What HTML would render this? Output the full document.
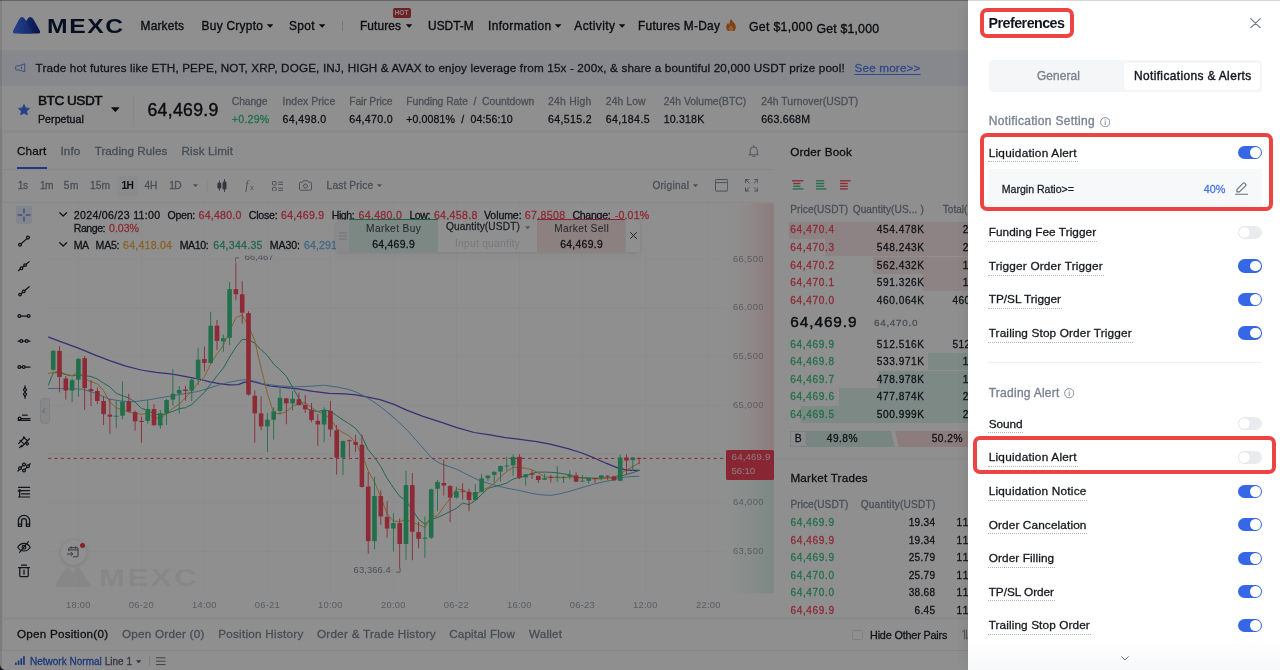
<!DOCTYPE html><html lang="en"><head><meta charset="utf-8"><title>MEXC Futures - Preferences</title><style>

*{margin:0;padding:0}
html,body{width:1280px;height:670px;overflow:hidden;background:#f5f6f7}
body{font-family:"Liberation Sans",sans-serif;-webkit-font-smoothing:antialiased}
#page{position:relative;width:1280px;height:670px;overflow:hidden;background:#f5f6f7}
#page span,#page div,#page svg{position:absolute;white-space:pre;display:block}
#trade,#drawer{will-change:transform}
#mask{left:0;top:0;width:1280px;height:670px;background:rgba(0,0,0,.44)}

</style></head><body><div id="page">
<div id="trade" style="left:0;top:0;width:1280px;height:670px">
<div style="left:777.00px;top:133.00px;width:503.00px;height:483.50px;background:#ffffff;"></div>
<div style="left:0.00px;top:0.00px;width:1280.00px;height:50.00px;background:#ffffff;"></div>
<svg style="left:13.4px;top:17px" width="27" height="16.6" viewBox="0 0 27 16.6">
<defs><linearGradient id="lg1" x1="0" y1="0" x2="1" y2="0"><stop offset="0" stop-color="#4078f4"/><stop offset="1" stop-color="#2247c0"/></linearGradient>
<linearGradient id="lg2" x1="0" y1="0" x2="1" y2="0"><stop offset="0" stop-color="#2a55d8"/><stop offset="1" stop-color="#10257f"/></linearGradient></defs>
<path d="M6.50 16.50Q6.40 16.50 6.45 16.41L13.67 3.36Q17.30 -3.20 20.98 3.33L26.83 13.71Q28.40 16.50 25.20 16.50Z" fill="url(#lg2)"/><path d="M1.80 16.50Q-1.40 16.50 0.08 13.66L5.42 3.45Q8.90 -3.20 12.68 3.28L18.79 13.74Q20.40 16.50 17.20 16.50Z" fill="url(#lg1)"/>
</svg>
<span style="left:46.6px;top:13px;font-size:20.6px;line-height:26px;font-weight:700;color:#0c1a3a;letter-spacing:1.3px;transform:scaleX(1.2);transform-origin:0 0;">MEXC</span>
<span style="left:140.60px;top:18px;font-size:11.9px;line-height:16px;color:#15181e;letter-spacing:0.181px;-webkit-text-stroke:0.36px #15181e;">Markets</span>
<span style="left:201.50px;top:18px;font-size:11.9px;line-height:16px;color:#15181e;letter-spacing:0.293px;-webkit-text-stroke:0.36px #15181e;">Buy Crypto</span>
<svg style="left:267.00px;top:24.10px" width="6.3" height="3.8" viewBox="0 0 10 6"><path d="M0.5 0.3h9a.4.4 0 0 1 .3.7L5.4 5.7a.55.55 0 0 1-.8 0L.2 1A.4.4 0 0 1 .5.3z" fill="#15181e"/></svg>
<span style="left:289.00px;top:18px;font-size:11.9px;line-height:16px;color:#15181e;letter-spacing:0.340px;-webkit-text-stroke:0.36px #15181e;">Spot</span>
<svg style="left:318.70px;top:24.10px" width="6.3" height="3.8" viewBox="0 0 10 6"><path d="M0.5 0.3h9a.4.4 0 0 1 .3.7L5.4 5.7a.55.55 0 0 1-.8 0L.2 1A.4.4 0 0 1 .5.3z" fill="#15181e"/></svg>
<div style="left:341.60px;top:20.50px;width:1.00px;height:10.00px;background:#d5d8dd;"></div>
<span style="left:360.00px;top:18px;font-size:11.9px;line-height:16px;color:#15181e;letter-spacing:0.110px;-webkit-text-stroke:0.36px #15181e;">Futures</span>
<svg style="left:405.50px;top:24.10px" width="6.3" height="3.8" viewBox="0 0 10 6"><path d="M0.5 0.3h9a.4.4 0 0 1 .3.7L5.4 5.7a.55.55 0 0 1-.8 0L.2 1A.4.4 0 0 1 .5.3z" fill="#15181e"/></svg>
<div style="left:392.50px;top:8.20px;width:18.00px;height:9.80px;background:#c23c40;border-radius:2px;"></div>
<span style="left:392.5px;width:18px;text-align:center;top:8.2px;font-size:6.6px;line-height:9.8px;font-weight:700;color:#ffecec;letter-spacing:0.1px">HOT</span>
<span style="left:428.00px;top:18px;font-size:11.9px;line-height:16px;color:#15181e;letter-spacing:0.038px;-webkit-text-stroke:0.36px #15181e;">USDT-M</span>
<span style="left:488.00px;top:18px;font-size:11.9px;line-height:16px;color:#15181e;letter-spacing:0.368px;-webkit-text-stroke:0.36px #15181e;">Information</span>
<svg style="left:555.40px;top:24.10px" width="6.3" height="3.8" viewBox="0 0 10 6"><path d="M0.5 0.3h9a.4.4 0 0 1 .3.7L5.4 5.7a.55.55 0 0 1-.8 0L.2 1A.4.4 0 0 1 .5.3z" fill="#15181e"/></svg>
<span style="left:574.30px;top:18px;font-size:11.9px;line-height:16px;color:#15181e;letter-spacing:0.430px;-webkit-text-stroke:0.36px #15181e;">Activity</span>
<svg style="left:619.00px;top:24.10px" width="6.3" height="3.8" viewBox="0 0 10 6"><path d="M0.5 0.3h9a.4.4 0 0 1 .3.7L5.4 5.7a.55.55 0 0 1-.8 0L.2 1A.4.4 0 0 1 .5.3z" fill="#15181e"/></svg>
<span style="left:638.00px;top:18px;font-size:11.9px;line-height:16px;color:#15181e;letter-spacing:0.277px;-webkit-text-stroke:0.36px #15181e;">Futures M-Day</span>
<svg style="left:726px;top:18.5px" width="10" height="12.8" viewBox="0 0 10 12.8">
<path d="M5.2 0c.6 2 2.300 3 3.500 4.800C9.600 6.200 10 7.400 9.800 8.700 9.500 11.100 7.500 12.800 5 12.800S.5 11.100.2 8.700C0 6.700 1 5.200 2.200 3.800c.2 1 .6 1.600 1.300 2C3.300 3.700 3.900 1.600 5.200 0z" fill="#e8702a"/>
<path d="M5 6.200c.9 1.100 2.200 2 2.200 3.700 0 1.400-1 2.500-2.200 2.500s-2.200-1.100-2.200-2.500c0-1.700 1.300-2.600 2.200-3.700z" fill="#f7b64a"/></svg>
<span style="left:749.00px;top:19px;font-size:12.3px;line-height:16px;color:#15181e;letter-spacing:0.294px;-webkit-text-stroke:0.36px #15181e;">Get $1,000</span>
<span style="left:816.50px;top:21px;font-size:12.3px;line-height:16px;color:#15181e;letter-spacing:0.182px;-webkit-text-stroke:0.36px #15181e;">Get $1,000</span>
<div style="left:0.00px;top:52.50px;width:1280.00px;height:33.00px;background:#f0f3fc;"></div>
<svg style="left:14.5px;top:63.3px" width="11" height="10" viewBox="0 0 11 10" fill="none" stroke="#5f7fd6" stroke-width="0.9" stroke-linejoin="round">
<path d="M9.800.8v8L4 7H1.600C1.100 7 .7 6.600.7 6.100V3.700c0-.5.4-.9.900-.9H4L9.800.8z"/><path d="M6.500 3.500v2.600"/></svg>
<span style="left:35.60px;top:60px;font-size:11.7px;line-height:15px;color:#22262e;letter-spacing:0.147px;-webkit-text-stroke:0.28px #22262e;">Trade hot futures like ETH, PEPE, NOT, XRP, DOGE, INJ, HIGH &amp; AVAX to enjoy leverage from 15x - 200x, &amp; share a bountiful 20,000 USDT prize pool!</span>
<span style="left:854.50px;top:60px;font-size:11.7px;line-height:15px;color:#5580f0;letter-spacing:0.179px;-webkit-text-stroke:0.28px #5580f0;text-decoration:underline;text-underline-offset:2px;">See more&gt;&gt;</span>
<div style="left:0.00px;top:85.50px;width:1280.00px;height:44.20px;background:#ffffff;"></div>
<svg style="left:18px;top:103.6px" width="12" height="11.600" viewBox="0 0 24 23"><path d="M12 .8l3.300 7 7.600 1-5.600 5.300 1.400 7.600L12 18l-6.700 3.700 1.400-7.600L1.100 8.800l7.600-1z" fill="#4576f2" stroke="#4576f2" stroke-width="1.600" stroke-linejoin="round"/></svg>
<span style="left:38.00px;top:92px;font-size:13.6px;line-height:17px;color:#14171c;letter-spacing:-0.486px;-webkit-text-stroke:0.55px #14171c;">BTC USDT</span>
<span style="left:38.00px;top:112px;font-size:10.6px;line-height:14px;color:#1b1f27;letter-spacing:0.053px;-webkit-text-stroke:0.35px #1b1f27;">Perpetual</span>
<svg style="left:111.00px;top:106.80px" width="8.6" height="5" viewBox="0 0 10 6"><path d="M0.5 0.3h9a.4.4 0 0 1 .3.7L5.4 5.7a.55.55 0 0 1-.8 0L.2 1A.4.4 0 0 1 .5.3z" fill="#14171c"/></svg>
<div style="left:133.00px;top:95.00px;width:1.00px;height:32.00px;background:#f1f2f4;"></div>
<span style="left:147.40px;top:99px;font-size:17.6px;line-height:22px;color:#14171c;letter-spacing:0.357px;-webkit-text-stroke:0.45px #14171c;">64,469.9</span>
<span style="left:231.80px;top:95px;font-size:10.4px;line-height:13px;color:#858c99;letter-spacing:-0.146px;-webkit-text-stroke:0.28px #858c99;">Change</span>
<span style="left:231.80px;top:112px;font-size:10.6px;line-height:14px;color:#3dc688;letter-spacing:0.251px;-webkit-text-stroke:0.28px #3dc688;">+0.29%</span>
<span style="left:282.50px;top:95px;font-size:10.4px;line-height:13px;color:#858c99;letter-spacing:0.068px;-webkit-text-stroke:0.28px #858c99;">Index Price</span>
<span style="left:282.50px;top:112px;font-size:10.6px;line-height:14px;color:#1b1f27;letter-spacing:0.349px;-webkit-text-stroke:0.28px #1b1f27;">64,498.0</span>
<span style="left:349.20px;top:95px;font-size:10.4px;line-height:13px;color:#858c99;letter-spacing:-0.121px;-webkit-text-stroke:0.28px #858c99;">Fair Price</span>
<span style="left:349.20px;top:112px;font-size:10.6px;line-height:14px;color:#1b1f27;letter-spacing:0.306px;-webkit-text-stroke:0.28px #1b1f27;">64,470.0</span>
<span style="left:406.20px;top:95px;font-size:10.4px;line-height:13px;color:#858c99;letter-spacing:-0.056px;-webkit-text-stroke:0.28px #858c99;">Funding Rate  /  Countdown</span>
<span style="left:406.20px;top:112px;font-size:10.6px;line-height:14px;color:#1b1f27;letter-spacing:0.119px;-webkit-text-stroke:0.28px #1b1f27;">+0.0081%  /  04:56:10</span>
<span style="left:548.00px;top:95px;font-size:10.4px;line-height:13px;color:#858c99;letter-spacing:0.239px;-webkit-text-stroke:0.28px #858c99;">24h High</span>
<span style="left:548.00px;top:112px;font-size:10.6px;line-height:14px;color:#1b1f27;letter-spacing:0.335px;-webkit-text-stroke:0.28px #1b1f27;">64,515.2</span>
<span style="left:605.80px;top:95px;font-size:10.4px;line-height:13px;color:#858c99;letter-spacing:0.081px;-webkit-text-stroke:0.28px #858c99;">24h Low</span>
<span style="left:605.80px;top:112px;font-size:10.6px;line-height:14px;color:#1b1f27;letter-spacing:0.363px;-webkit-text-stroke:0.28px #1b1f27;">64,184.5</span>
<span style="left:663.70px;top:95px;font-size:10.4px;line-height:13px;color:#858c99;-webkit-text-stroke:0.28px #858c99;">24h Volume(BTC)</span>
<span style="left:663.70px;top:112px;font-size:10.6px;line-height:14px;color:#1b1f27;letter-spacing:0.185px;-webkit-text-stroke:0.28px #1b1f27;">10.318K</span>
<span style="left:761.20px;top:95px;font-size:10.4px;line-height:13px;color:#858c99;letter-spacing:0.029px;-webkit-text-stroke:0.28px #858c99;">24h Turnover(USDT)</span>
<span style="left:761.20px;top:112px;font-size:10.6px;line-height:14px;color:#1b1f27;letter-spacing:0.237px;-webkit-text-stroke:0.28px #1b1f27;">663.668M</span>
<div style="left:3.00px;top:133.00px;width:774.50px;height:483.50px;background:#ffffff;"></div>
<span style="left:16.90px;top:143px;font-size:11.7px;line-height:15px;color:#14171c;letter-spacing:0.223px;-webkit-text-stroke:0.28px #14171c;">Chart</span>
<span style="left:60.40px;top:143px;font-size:11.7px;line-height:15px;color:#7f8794;letter-spacing:0.129px;-webkit-text-stroke:0.28px #7f8794;">Info</span>
<span style="left:94.70px;top:143px;font-size:11.7px;line-height:15px;color:#7f8794;letter-spacing:0.025px;-webkit-text-stroke:0.28px #7f8794;">Trading Rules</span>
<span style="left:181.50px;top:143px;font-size:11.7px;line-height:15px;color:#7f8794;letter-spacing:0.089px;-webkit-text-stroke:0.28px #7f8794;">Risk Limit</span>
<div style="left:16.90px;top:166.60px;width:30.00px;height:2.10px;background:#3f66e0;"></div>
<div style="left:3.00px;top:168.60px;width:771.00px;height:1.00px;background:#f1f2f4;"></div>
<svg style="left:747.5px;top:145.4px" width="11.6" height="12.4" viewBox="0 0 12 13" fill="none" stroke="#8a919c" stroke-width="1" stroke-linecap="round" stroke-linejoin="round"><path d="M2.300 9.300V5.600a3.700 3.700 0 0 1 7.400 0v3.700l1 1H1.300z"/><path d="M4.800 11.900h2.400M6 1.900V.8"/></svg>
<div style="left:117.20px;top:176.30px;width:20.60px;height:19.60px;background:#f7f8f9;border-radius:2px;"></div>
<span style="left:17.80px;top:179px;font-size:10.2px;line-height:13px;color:#868d99;letter-spacing:-0.472px;-webkit-text-stroke:0.28px #868d99;">1s</span>
<span style="left:40.00px;top:179px;font-size:10.2px;line-height:13px;color:#868d99;letter-spacing:-0.600px;-webkit-text-stroke:0.28px #868d99;">1m</span>
<span style="left:63.80px;top:179px;font-size:10.2px;line-height:13px;color:#868d99;letter-spacing:0.432px;-webkit-text-stroke:0.28px #868d99;">5m</span>
<span style="left:90.00px;top:179px;font-size:10.2px;line-height:13px;color:#868d99;letter-spacing:0.080px;-webkit-text-stroke:0.28px #868d99;">15m</span>
<span style="left:121.50px;top:179px;font-size:10.2px;line-height:13px;color:#14171c;letter-spacing:-0.600px;font-weight:700;">1H</span>
<span style="left:144.40px;top:179px;font-size:10.2px;line-height:13px;color:#868d99;letter-spacing:0.062px;-webkit-text-stroke:0.28px #868d99;">4H</span>
<span style="left:169.30px;top:179px;font-size:10.2px;line-height:13px;color:#868d99;letter-spacing:-0.600px;-webkit-text-stroke:0.28px #868d99;">1D</span>
<svg style="left:193.00px;top:184.30px" width="5" height="3.2" viewBox="0 0 10 6"><path d="M0.5 0.3h9a.4.4 0 0 1 .3.7L5.4 5.7a.55.55 0 0 1-.8 0L.2 1A.4.4 0 0 1 .5.3z" fill="#8a919c"/></svg>
<div style="left:207.00px;top:180.00px;width:1.00px;height:12.00px;background:#f5f6f7;"></div>
<svg style="left:217.4px;top:179px" width="10" height="13.4" viewBox="0 0 10 13.400" fill="#5b626e"><rect x="1.900" y="1.600" width="0.9" height="10"/><rect x="0.4" y="3.800" width="3.900" height="5.600" rx="1.200"/><rect x="7.100" y="0" width="0.9" height="13.400"/><rect x="5.600" y="2.600" width="3.900" height="7.800" rx="1.200"/></svg>
<span style="left:245.3px;top:177.6px;font-size:11.5px;line-height:15px;font-style:italic;color:#8a919c;font-family:'Liberation Serif',serif;">f</span><span style="left:250px;top:182.6px;font-size:7.5px;line-height:10px;color:#8a919c;">x</span>
<svg style="left:271.8px;top:180.5px" width="11.2" height="10.6" viewBox="0 0 11.200 10.600" fill="none" stroke="#8a919c" stroke-width="1"><rect x=".5" y=".5" width="3.600" height="3.600" rx=".6"/><rect x=".5" y="6.500" width="3.600" height="3.600" rx=".6"/><path d="M6.300 1.200h4.900M6.300 3.400h4.900M6.300 7.200h4.900M6.300 9.400h4.900"/></svg>
<svg style="left:299px;top:180.3px" width="13" height="10.8" viewBox="0 0 13 10.800" fill="none" stroke="#8a919c" stroke-width="1" stroke-linejoin="round"><path d="M1.500 2.200h2l.9-1.500h4.200l.9 1.500h2c.6 0 1 .4 1 1v6c0 .6-.4 1-1 1h-10c-.6 0-1-.4-1-1v-6c0-.6.4-1 1-1z"/><circle cx="6.500" cy="6" r="2"/></svg>
<span style="left:326.60px;top:179px;font-size:10.2px;line-height:13px;color:#868d99;letter-spacing:0.128px;-webkit-text-stroke:0.28px #868d99;">Last Price</span>
<svg style="left:377.40px;top:184.30px" width="5" height="3.2" viewBox="0 0 10 6"><path d="M0.5 0.3h9a.4.4 0 0 1 .3.7L5.4 5.7a.55.55 0 0 1-.8 0L.2 1A.4.4 0 0 1 .5.3z" fill="#8a919c"/></svg>
<span style="left:652.40px;top:179px;font-size:10.2px;line-height:13px;color:#868d99;letter-spacing:0.208px;-webkit-text-stroke:0.28px #868d99;">Original</span>
<svg style="left:693.20px;top:184.30px" width="5" height="3.2" viewBox="0 0 10 6"><path d="M0.5 0.3h9a.4.4 0 0 1 .3.7L5.4 5.7a.55.55 0 0 1-.8 0L.2 1A.4.4 0 0 1 .5.3z" fill="#8a919c"/></svg>
<svg style="left:715px;top:179.2px" width="13.2" height="12.6" viewBox="0 0 13.200 12.600" fill="none" stroke="#8a919c" stroke-width="1"><rect x=".5" y=".5" width="12.200" height="11.600" rx=".8"/><path d="M.5 3.600h12.200"/></svg>
<svg style="left:744.8px;top:179.2px" width="13.400" height="12.600" viewBox="0 0 13.400 12.600" fill="none" stroke="#8a919c" stroke-width="1" stroke-linecap="round" stroke-linejoin="round"><path d="M.6 3.800V.6h3.200M.6.600l3.600 3.400M12.800 3.800V.6H9.600M12.800.6L9.200 4M.6 8.800V12h3.200M.6 12l3.600-3.400M12.800 8.800V12H9.600M12.800 12L9.200 8.600"/></svg>
<div style="left:3.00px;top:202.40px;width:771.00px;height:1.00px;background:#f1f2f4;"></div>
<svg style="left:0;top:0" width="1280" height="670" viewBox="0 0 1280 670"><defs><linearGradient id="pg" x1="0" y1="0" x2="1" y2="0"><stop offset="0" stop-color="#f0455b" stop-opacity="0"/><stop offset="0.45" stop-color="#f0455b" stop-opacity="0.05"/><stop offset="1" stop-color="#f0455b" stop-opacity="0.19"/></linearGradient><linearGradient id="gg" x1="0" y1="0" x2="1" y2="0"><stop offset="0" stop-color="#1fae7c" stop-opacity="0"/><stop offset="0.45" stop-color="#1fae7c" stop-opacity="0.05"/><stop offset="1" stop-color="#1fae7c" stop-opacity="0.15"/></linearGradient></defs><rect x="727" y="203.4" width="46.800" height="255" fill="url(#pg)"/><rect x="727" y="458.4" width="46.800" height="134.800" fill="url(#gg)"/><path d="M78.4 203.500V593" stroke="#f8f9fa" stroke-width="1"/><path d="M141.4 203.500V593" stroke="#f8f9fa" stroke-width="1"/><path d="M204.4 203.500V593" stroke="#f8f9fa" stroke-width="1"/><path d="M267.4 203.500V593" stroke="#f8f9fa" stroke-width="1"/><path d="M330.4 203.500V593" stroke="#f8f9fa" stroke-width="1"/><path d="M393.4 203.500V593" stroke="#f8f9fa" stroke-width="1"/><path d="M456.4 203.500V593" stroke="#f8f9fa" stroke-width="1"/><path d="M519.4 203.500V593" stroke="#f8f9fa" stroke-width="1"/><path d="M582.4 203.500V593" stroke="#f8f9fa" stroke-width="1"/><path d="M645.4 203.500V593" stroke="#f8f9fa" stroke-width="1"/><path d="M708.4 203.500V593" stroke="#f8f9fa" stroke-width="1"/><path d="M48 259.2H726" stroke="#f8f9fa" stroke-width="1"/><path d="M48 308.0H726" stroke="#f8f9fa" stroke-width="1"/><path d="M48 356.6H726" stroke="#f8f9fa" stroke-width="1"/><path d="M48 405.3H726" stroke="#f8f9fa" stroke-width="1"/><path d="M48 454.0H726" stroke="#f8f9fa" stroke-width="1"/><path d="M48 502.7H726" stroke="#f8f9fa" stroke-width="1"/><path d="M48 551.4H726" stroke="#f8f9fa" stroke-width="1"/><path d="M48.6 337.2 L62.0 342.2 L78.4 348.2 L94.0 354.6 L109.7 360.7 L125.0 365.8 L141.0 370.0 L156.0 372.4 L172.4 374.2 L186.0 376.6 L200.6 379.5 L210.0 381.8 L219.4 383.6 L229.0 384.8 L238.2 384.6 L244.0 382.4 L250.8 381.2 L258.0 382.8 L269.6 385.8 L283.0 387.4 L297.8 388.9 L313.0 391.4 L329.2 393.4 L345.0 393.8 L356.0 394.8 L365.4 396.7 L380.0 399.6 L394.0 404.4 L407.2 410.4 L423.0 416.4 L440.0 421.8 L457.0 427.6 L474.0 432.5 L490.0 434.8 L505.4 437.6 L520.0 439.4 L536.7 441.6 L550.0 444.2 L568.0 448.6 L582.0 453.0 L594.7 458.2 L606.0 463.2 L617.6 467.8 L624.0 469.4 L631.0 470.3 L639.0 470.3" fill="none" stroke="#6a4fd0" stroke-width="1.25" stroke-linejoin="round" stroke-linecap="round" opacity="1"/><path d="M48.4 388.5 L65.0 388.6 L81.8 389.1 L95.0 393.0 L109.0 399.0 L122.0 401.2 L134.0 401.7 L150.0 399.6 L165.4 396.9 L181.0 394.3 L196.7 391.7 L207.0 388.8 L217.6 385.4 L229.0 382.2 L240.0 380.2 L248.0 379.7 L256.0 381.5 L263.0 383.8 L278.0 385.8 L294.5 386.9 L310.0 386.3 L323.6 385.2 L336.3 386.9 L348.7 389.4 L357.0 392.4 L365.4 396.7 L376.0 403.4 L386.3 411.3 L397.0 420.5 L407.2 430.2 L415.5 439.6 L423.9 449.0 L432.0 458.4 L440.0 463.4 L448.0 466.2 L457.0 469.4 L467.0 474.5 L478.0 479.9 L488.0 483.2 L498.8 486.3 L509.0 488.6 L519.7 490.6 L530.0 493.0 L540.0 494.7 L550.4 495.4 L560.0 493.8 L570.6 491.1 L580.0 488.2 L590.7 485.1 L600.0 482.6 L610.9 480.4 L618.0 478.6 L624.3 477.2 L632.0 476.5 L639.0 476.3" fill="none" stroke="#74b9e6" stroke-width="1" stroke-linejoin="round" stroke-linecap="round" opacity="1"/><path d="M48.4 385.0 L53.2 372.9 L59.5 372.6 L65.8 374.6 L72.1 376.0 L78.4 374.6 L84.7 375.7 L91.0 376.5 L97.3 379.0 L103.6 383.2 L109.9 386.9 L116.2 393.3 L122.5 395.8 L128.8 397.9 L135.1 402.0 L141.4 408.3 L147.7 410.4 L154.0 413.8 L160.3 415.0 L166.6 413.6 L172.9 411.3 L179.2 408.7 L185.5 407.7 L191.8 404.5 L198.1 398.3 L204.4 392.4 L210.7 384.1 L217.0 375.7 L223.3 368.2 L229.6 357.1 L235.9 347.1 L242.2 339.4 L248.5 339.8 L254.8 343.1 L261.1 349.8 L267.4 355.5 L273.7 364.1 L280.0 369.8 L286.3 376.3 L292.6 387.2 L298.9 398.3 L305.2 408.0 L311.5 410.5 L317.8 411.6 L324.1 410.0 L330.4 411.0 L336.7 415.6 L343.0 420.0 L349.3 423.8 L355.6 428.4 L361.9 436.5 L368.2 449.7 L374.5 457.3 L380.8 466.5 L387.1 478.3 L393.4 487.7 L399.7 496.3 L406.0 500.7 L412.3 509.8 L418.6 519.2 L424.9 524.2 L431.2 519.1 L437.5 517.6 L443.8 514.6 L450.1 511.5 L456.4 508.3 L462.7 503.1 L469.0 504.6 L475.3 500.6 L481.6 494.6 L487.9 488.4 L494.2 486.6 L500.5 485.0 L506.8 483.0 L513.1 479.0 L519.4 477.6 L525.7 475.9 L532.0 473.3 L538.3 472.1 L544.6 472.1 L550.9 472.3 L557.2 472.8 L563.5 473.9 L569.8 474.8 L576.1 477.3 L582.4 477.6 L588.7 477.9 L595.0 478.4 L601.3 477.9 L607.6 477.7 L613.9 478.0 L620.2 476.1 L626.5 474.5 L632.8 472.7 L639.1 470.4" fill="none" stroke="#3fb890" stroke-width="1" stroke-linejoin="round" stroke-linecap="round" opacity="1"/><path d="M48.4 373.5 L53.2 372.4 L59.5 371.2 L65.8 374.1 L72.1 375.7 L78.4 371.5 L84.7 378.9 L91.0 381.7 L97.3 383.8 L103.6 390.6 L109.9 402.2 L116.2 407.7 L122.5 409.8 L128.8 411.9 L135.1 413.3 L141.4 414.4 L147.7 413.1 L154.0 417.8 L160.3 418.1 L166.6 413.9 L172.9 408.2 L179.2 404.4 L185.5 397.6 L191.8 390.9 L198.1 382.8 L204.4 376.7 L210.7 363.8 L217.0 353.8 L223.3 345.5 L229.6 331.4 L235.9 317.6 L242.2 315.0 L248.5 325.8 L254.8 340.8 L261.1 368.3 L267.4 393.4 L273.7 413.1 L280.0 413.7 L286.3 411.7 L292.6 406.2 L298.9 403.3 L305.2 402.9 L311.5 407.3 L317.8 411.6 L324.1 413.9 L330.4 418.7 L336.7 428.4 L343.0 432.6 L349.3 435.9 L355.6 442.8 L361.9 454.3 L368.2 471.0 L374.5 482.0 L380.8 497.1 L387.1 513.8 L393.4 521.0 L399.7 521.6 L406.0 519.4 L412.3 522.5 L418.6 524.5 L424.9 527.5 L431.2 516.5 L437.5 515.9 L443.8 506.6 L450.1 498.4 L456.4 489.1 L462.7 489.6 L469.0 493.3 L475.3 494.6 L481.6 490.7 L487.9 487.6 L494.2 483.6 L500.5 476.8 L506.8 471.5 L513.1 467.2 L519.4 467.6 L525.7 468.1 L532.0 469.8 L538.3 472.7 L544.6 477.0 L550.9 477.0 L557.2 477.5 L563.5 477.9 L569.8 476.9 L576.1 477.6 L582.4 478.2 L588.7 478.4 L595.0 478.9 L601.3 478.9 L607.6 477.9 L613.9 477.8 L620.2 473.7 L626.5 470.1 L632.8 466.5 L639.1 462.9" fill="none" stroke="#f0b04a" stroke-width="1" stroke-linejoin="round" stroke-linecap="round" opacity="1"/><path d="M48 458.400H726.400" stroke="#ee4a5d" stroke-width="1" stroke-dasharray="3.200 3.200"/><rect x="52.75" y="349.9" width="0.9" height="20.9" fill="#3dc688"/><rect x="50.90" y="350.9" width="4.600" height="18.8" fill="#3dc688"/><rect x="59.05" y="346.3" width="0.9" height="46.0" fill="#fb4b5f"/><rect x="57.20" y="350.9" width="4.600" height="26.1" fill="#fb4b5f"/><rect x="65.35" y="376.0" width="0.9" height="23.6" fill="#fb4b5f"/><rect x="63.50" y="378.5" width="4.600" height="12.1" fill="#fb4b5f"/><rect x="71.65" y="378.5" width="0.9" height="23.5" fill="#3dc688"/><rect x="69.80" y="380.2" width="4.600" height="10.4" fill="#3dc688"/><rect x="77.95" y="358.2" width="0.9" height="38.7" fill="#3dc688"/><rect x="76.10" y="358.8" width="4.600" height="20.9" fill="#3dc688"/><rect x="84.25" y="356.0" width="0.9" height="53.8" fill="#fb4b5f"/><rect x="82.40" y="358.2" width="4.600" height="29.9" fill="#fb4b5f"/><rect x="90.55" y="380.2" width="0.9" height="26.1" fill="#fb4b5f"/><rect x="88.70" y="389.1" width="4.600" height="1.9" fill="#fb4b5f"/><rect x="96.85" y="387.5" width="0.9" height="16.7" fill="#fb4b5f"/><rect x="95.00" y="391.0" width="4.600" height="10.0" fill="#fb4b5f"/><rect x="103.15" y="396.5" width="0.9" height="28.5" fill="#fb4b5f"/><rect x="101.30" y="401.0" width="4.600" height="13.2" fill="#fb4b5f"/><rect x="109.45" y="399.0" width="0.9" height="34.9" fill="#fb4b5f"/><rect x="107.60" y="414.6" width="4.600" height="2.1" fill="#fb4b5f"/><rect x="115.75" y="400.6" width="0.9" height="27.6" fill="#3dc688"/><rect x="113.90" y="415.7" width="4.600" height="1.0" fill="#3dc688"/><rect x="122.05" y="381.2" width="0.9" height="38.2" fill="#3dc688"/><rect x="120.20" y="401.5" width="4.600" height="14.2" fill="#3dc688"/><rect x="128.35" y="393.7" width="0.9" height="18.8" fill="#fb4b5f"/><rect x="126.50" y="401.5" width="4.600" height="10.0" fill="#fb4b5f"/><rect x="134.65" y="410.5" width="0.9" height="20.2" fill="#fb4b5f"/><rect x="132.80" y="412.1" width="4.600" height="9.2" fill="#fb4b5f"/><rect x="140.95" y="416.7" width="0.9" height="26.2" fill="#fb4b5f"/><rect x="139.10" y="420.9" width="4.600" height="1.1" fill="#fb4b5f"/><rect x="147.25" y="400.0" width="0.9" height="23.6" fill="#3dc688"/><rect x="145.40" y="409.0" width="4.600" height="11.9" fill="#3dc688"/><rect x="153.55" y="404.2" width="0.9" height="21.9" fill="#fb4b5f"/><rect x="151.70" y="409.0" width="4.600" height="16.1" fill="#fb4b5f"/><rect x="159.85" y="410.0" width="0.9" height="18.8" fill="#3dc688"/><rect x="158.00" y="413.2" width="4.600" height="12.3" fill="#3dc688"/><rect x="166.15" y="399.0" width="0.9" height="26.0" fill="#3dc688"/><rect x="164.30" y="400.0" width="4.600" height="13.2" fill="#3dc688"/><rect x="172.45" y="369.0" width="0.9" height="36.7" fill="#3dc688"/><rect x="170.60" y="393.7" width="4.600" height="5.9" fill="#3dc688"/><rect x="178.75" y="386.0" width="0.9" height="27.6" fill="#3dc688"/><rect x="176.90" y="390.0" width="4.600" height="3.7" fill="#3dc688"/><rect x="185.05" y="386.0" width="0.9" height="14.6" fill="#fb4b5f"/><rect x="183.20" y="389.6" width="4.600" height="1.4" fill="#fb4b5f"/><rect x="191.35" y="377.6" width="0.9" height="23.4" fill="#3dc688"/><rect x="189.50" y="379.7" width="4.600" height="10.9" fill="#3dc688"/><rect x="197.65" y="347.8" width="0.9" height="37.0" fill="#3dc688"/><rect x="195.80" y="359.7" width="4.600" height="19.4" fill="#3dc688"/><rect x="203.95" y="346.6" width="0.9" height="24.6" fill="#fb4b5f"/><rect x="202.10" y="359.0" width="4.600" height="3.9" fill="#fb4b5f"/><rect x="210.25" y="311.7" width="0.9" height="52.3" fill="#3dc688"/><rect x="208.40" y="325.7" width="4.600" height="37.2" fill="#3dc688"/><rect x="216.55" y="320.0" width="0.9" height="29.9" fill="#fb4b5f"/><rect x="214.70" y="325.7" width="4.600" height="15.2" fill="#fb4b5f"/><rect x="222.85" y="334.6" width="0.9" height="17.2" fill="#3dc688"/><rect x="221.00" y="338.2" width="4.600" height="3.1" fill="#3dc688"/><rect x="229.15" y="281.8" width="0.9" height="63.3" fill="#3dc688"/><rect x="227.30" y="289.1" width="4.600" height="48.7" fill="#3dc688"/><rect x="235.45" y="262.6" width="0.9" height="37.6" fill="#fb4b5f"/><rect x="233.60" y="289.1" width="4.600" height="5.2" fill="#fb4b5f"/><rect x="241.75" y="281.3" width="0.9" height="42.3" fill="#fb4b5f"/><rect x="239.90" y="294.3" width="4.600" height="18.4" fill="#fb4b5f"/><rect x="248.05" y="311.2" width="0.9" height="84.5" fill="#fb4b5f"/><rect x="246.20" y="313.1" width="4.600" height="81.5" fill="#fb4b5f"/><rect x="254.35" y="390.4" width="0.9" height="52.3" fill="#fb4b5f"/><rect x="252.50" y="395.7" width="4.600" height="17.7" fill="#fb4b5f"/><rect x="260.65" y="396.3" width="0.9" height="33.9" fill="#fb4b5f"/><rect x="258.80" y="413.4" width="4.600" height="13.0" fill="#fb4b5f"/><rect x="266.95" y="413.0" width="0.9" height="39.1" fill="#3dc688"/><rect x="265.10" y="419.7" width="4.600" height="6.7" fill="#3dc688"/><rect x="273.25" y="407.2" width="0.9" height="32.4" fill="#3dc688"/><rect x="271.40" y="411.3" width="4.600" height="8.4" fill="#3dc688"/><rect x="279.55" y="388.4" width="0.9" height="26.1" fill="#3dc688"/><rect x="277.70" y="397.8" width="4.600" height="13.1" fill="#3dc688"/><rect x="285.85" y="397.8" width="0.9" height="26.5" fill="#fb4b5f"/><rect x="284.00" y="398.4" width="4.600" height="5.0" fill="#fb4b5f"/><rect x="292.15" y="390.9" width="0.9" height="19.4" fill="#3dc688"/><rect x="290.30" y="398.8" width="4.600" height="4.6" fill="#3dc688"/><rect x="298.45" y="392.5" width="0.9" height="13.0" fill="#fb4b5f"/><rect x="296.60" y="399.2" width="4.600" height="5.9" fill="#fb4b5f"/><rect x="304.75" y="395.0" width="0.9" height="18.0" fill="#fb4b5f"/><rect x="302.90" y="405.1" width="4.600" height="4.2" fill="#fb4b5f"/><rect x="311.05" y="403.0" width="0.9" height="19.2" fill="#fb4b5f"/><rect x="309.20" y="409.7" width="4.600" height="10.4" fill="#fb4b5f"/><rect x="317.35" y="413.9" width="0.9" height="31.9" fill="#fb4b5f"/><rect x="315.50" y="420.8" width="4.600" height="3.7" fill="#fb4b5f"/><rect x="323.65" y="407.2" width="0.9" height="35.1" fill="#3dc688"/><rect x="321.80" y="410.3" width="4.600" height="14.2" fill="#3dc688"/><rect x="329.95" y="400.9" width="0.9" height="35.9" fill="#fb4b5f"/><rect x="328.10" y="410.9" width="4.600" height="18.6" fill="#fb4b5f"/><rect x="336.25" y="424.9" width="0.9" height="49.6" fill="#fb4b5f"/><rect x="334.40" y="430.2" width="4.600" height="27.5" fill="#fb4b5f"/><rect x="342.55" y="440.6" width="0.9" height="34.5" fill="#3dc688"/><rect x="340.70" y="441.0" width="4.600" height="16.7" fill="#3dc688"/><rect x="348.85" y="439.6" width="0.9" height="17.7" fill="#fb4b5f"/><rect x="347.00" y="440.2" width="4.600" height="1.0" fill="#fb4b5f"/><rect x="355.15" y="434.8" width="0.9" height="17.3" fill="#fb4b5f"/><rect x="353.30" y="442.1" width="4.600" height="2.7" fill="#fb4b5f"/><rect x="361.45" y="434.8" width="0.9" height="52.8" fill="#fb4b5f"/><rect x="359.60" y="444.8" width="4.600" height="42.2" fill="#fb4b5f"/><rect x="367.75" y="472.0" width="0.9" height="81.6" fill="#fb4b5f"/><rect x="365.90" y="486.6" width="4.600" height="54.5" fill="#fb4b5f"/><rect x="374.05" y="476.7" width="0.9" height="72.7" fill="#3dc688"/><rect x="372.20" y="496.0" width="4.600" height="45.1" fill="#3dc688"/><rect x="380.35" y="490.3" width="0.9" height="34.5" fill="#fb4b5f"/><rect x="378.50" y="496.0" width="4.600" height="20.4" fill="#fb4b5f"/><rect x="386.65" y="500.8" width="0.9" height="36.9" fill="#fb4b5f"/><rect x="384.80" y="516.8" width="4.600" height="11.7" fill="#fb4b5f"/><rect x="392.95" y="513.3" width="0.9" height="38.2" fill="#3dc688"/><rect x="391.10" y="523.1" width="4.600" height="5.4" fill="#3dc688"/><rect x="399.25" y="518.5" width="0.9" height="50.2" fill="#fb4b5f"/><rect x="397.40" y="523.1" width="4.600" height="20.9" fill="#fb4b5f"/><rect x="405.55" y="470.9" width="0.9" height="89.0" fill="#3dc688"/><rect x="403.70" y="485.1" width="4.600" height="58.9" fill="#3dc688"/><rect x="411.85" y="473.0" width="0.9" height="87.3" fill="#fb4b5f"/><rect x="410.00" y="485.1" width="4.600" height="46.6" fill="#fb4b5f"/><rect x="418.15" y="521.6" width="0.9" height="26.6" fill="#fb4b5f"/><rect x="416.30" y="532.1" width="4.600" height="6.7" fill="#fb4b5f"/><rect x="424.45" y="516.4" width="0.9" height="41.4" fill="#3dc688"/><rect x="422.60" y="537.7" width="4.600" height="1.1" fill="#3dc688"/><rect x="430.75" y="488.6" width="0.9" height="50.4" fill="#3dc688"/><rect x="428.90" y="489.3" width="4.600" height="48.4" fill="#3dc688"/><rect x="437.05" y="479.9" width="0.9" height="31.3" fill="#3dc688"/><rect x="435.20" y="481.9" width="4.600" height="6.9" fill="#3dc688"/><rect x="443.35" y="459.5" width="0.9" height="36.0" fill="#fb4b5f"/><rect x="441.50" y="483.0" width="4.600" height="2.5" fill="#fb4b5f"/><rect x="449.65" y="485.0" width="0.9" height="37.3" fill="#fb4b5f"/><rect x="447.80" y="486.1" width="4.600" height="11.5" fill="#fb4b5f"/><rect x="455.95" y="486.8" width="0.9" height="11.9" fill="#3dc688"/><rect x="454.10" y="491.3" width="4.600" height="6.3" fill="#3dc688"/><rect x="462.25" y="483.4" width="0.9" height="16.3" fill="#fb4b5f"/><rect x="460.40" y="490.7" width="4.600" height="1.1" fill="#fb4b5f"/><rect x="468.55" y="488.8" width="0.9" height="22.4" fill="#fb4b5f"/><rect x="466.70" y="491.8" width="4.600" height="8.3" fill="#fb4b5f"/><rect x="474.85" y="484.0" width="0.9" height="16.8" fill="#3dc688"/><rect x="473.00" y="492.0" width="4.600" height="8.1" fill="#3dc688"/><rect x="481.15" y="474.2" width="0.9" height="18.2" fill="#3dc688"/><rect x="479.30" y="478.4" width="4.600" height="13.4" fill="#3dc688"/><rect x="487.45" y="475.0" width="0.9" height="5.9" fill="#3dc688"/><rect x="485.60" y="475.7" width="4.600" height="2.5" fill="#3dc688"/><rect x="493.75" y="471.2" width="0.9" height="11.8" fill="#3dc688"/><rect x="491.90" y="471.9" width="4.600" height="3.0" fill="#3dc688"/><rect x="500.05" y="465.6" width="0.9" height="15.9" fill="#3dc688"/><rect x="498.20" y="466.0" width="4.600" height="5.6" fill="#3dc688"/><rect x="506.35" y="456.6" width="0.9" height="14.2" fill="#3dc688"/><rect x="504.50" y="465.6" width="4.600" height="0.9" fill="#3dc688"/><rect x="512.65" y="454.2" width="0.9" height="21.5" fill="#3dc688"/><rect x="510.80" y="456.9" width="4.600" height="8.5" fill="#3dc688"/><rect x="518.95" y="454.2" width="0.9" height="24.8" fill="#fb4b5f"/><rect x="517.10" y="456.9" width="4.600" height="20.8" fill="#fb4b5f"/><rect x="525.25" y="474.0" width="0.9" height="11.6" fill="#3dc688"/><rect x="523.40" y="474.3" width="4.600" height="3.0" fill="#3dc688"/><rect x="531.55" y="470.4" width="0.9" height="8.6" fill="#fb4b5f"/><rect x="529.70" y="473.6" width="4.600" height="1.1" fill="#fb4b5f"/><rect x="537.85" y="475.7" width="0.9" height="7.3" fill="#fb4b5f"/><rect x="536.00" y="475.9" width="4.600" height="4.1" fill="#fb4b5f"/><rect x="544.15" y="473.6" width="0.9" height="6.4" fill="#3dc688"/><rect x="542.30" y="478.1" width="4.600" height="1.6" fill="#3dc688"/><rect x="550.45" y="475.0" width="0.9" height="7.4" fill="#fb4b5f"/><rect x="548.60" y="477.0" width="4.600" height="0.9" fill="#fb4b5f"/><rect x="556.75" y="466.3" width="0.9" height="15.4" fill="#3dc688"/><rect x="554.90" y="476.7" width="4.600" height="0.9" fill="#3dc688"/><rect x="563.05" y="476.3" width="0.9" height="6.7" fill="#3dc688"/><rect x="561.20" y="476.7" width="4.600" height="0.9" fill="#3dc688"/><rect x="569.35" y="470.3" width="0.9" height="9.1" fill="#3dc688"/><rect x="567.50" y="475.0" width="4.600" height="1.7" fill="#3dc688"/><rect x="575.65" y="472.3" width="0.9" height="9.8" fill="#fb4b5f"/><rect x="573.80" y="475.4" width="4.600" height="6.3" fill="#fb4b5f"/><rect x="581.95" y="475.0" width="0.9" height="6.7" fill="#3dc688"/><rect x="580.10" y="480.7" width="4.600" height="0.9" fill="#3dc688"/><rect x="588.25" y="477.7" width="0.9" height="6.0" fill="#3dc688"/><rect x="586.40" y="478.1" width="4.600" height="2.7" fill="#3dc688"/><rect x="594.55" y="477.7" width="0.9" height="5.3" fill="#fb4b5f"/><rect x="592.70" y="478.1" width="4.600" height="0.9" fill="#fb4b5f"/><rect x="600.85" y="475.0" width="0.9" height="5.4" fill="#3dc688"/><rect x="599.00" y="475.4" width="4.600" height="2.7" fill="#3dc688"/><rect x="607.15" y="475.4" width="0.9" height="4.3" fill="#fb4b5f"/><rect x="605.30" y="475.7" width="4.600" height="0.9" fill="#fb4b5f"/><rect x="613.45" y="475.7" width="0.9" height="5.1" fill="#fb4b5f"/><rect x="611.60" y="476.3" width="4.600" height="4.1" fill="#fb4b5f"/><rect x="619.75" y="454.4" width="0.9" height="26.6" fill="#3dc688"/><rect x="617.90" y="457.5" width="4.600" height="23.3" fill="#3dc688"/><rect x="626.05" y="454.4" width="0.9" height="20.2" fill="#fb4b5f"/><rect x="624.20" y="457.5" width="4.600" height="3.1" fill="#fb4b5f"/><rect x="632.35" y="457.3" width="0.9" height="13.7" fill="#3dc688"/><rect x="630.50" y="457.5" width="4.600" height="2.7" fill="#3dc688"/><rect x="638.65" y="457.5" width="0.9" height="6.7" fill="#fb4b5f"/><rect x="636.80" y="457.9" width="4.600" height="0.9" fill="#fb4b5f"/></svg>
<span style="left:732.90px;top:252px;font-size:9.4px;line-height:13px;color:#a0a6b0;letter-spacing:0.390px;">66,500</span>
<span style="left:732.90px;top:300px;font-size:9.4px;line-height:13px;color:#a0a6b0;letter-spacing:0.390px;">66,000</span>
<span style="left:732.90px;top:349px;font-size:9.4px;line-height:13px;color:#a0a6b0;letter-spacing:0.390px;">65,500</span>
<span style="left:732.90px;top:398px;font-size:9.4px;line-height:13px;color:#a0a6b0;letter-spacing:0.390px;">65,000</span>
<span style="left:732.90px;top:495px;font-size:9.4px;line-height:13px;color:#a0a6b0;letter-spacing:0.390px;">64,000</span>
<span style="left:732.90px;top:544px;font-size:9.4px;line-height:13px;color:#a0a6b0;letter-spacing:0.390px;">63,500</span>
<span style="left:-71.60px;width:300px;text-align:center;top:598px;font-size:9.4px;line-height:13px;color:#a0a6b0;letter-spacing:0.250px;">18:00</span>
<span style="left:-8.60px;width:300px;text-align:center;top:598px;font-size:9.4px;line-height:13px;color:#a0a6b0;letter-spacing:0.250px;">06-20</span>
<span style="left:54.40px;width:300px;text-align:center;top:598px;font-size:9.4px;line-height:13px;color:#a0a6b0;letter-spacing:0.250px;">14:00</span>
<span style="left:117.40px;width:300px;text-align:center;top:598px;font-size:9.4px;line-height:13px;color:#a0a6b0;letter-spacing:0.250px;">06-21</span>
<span style="left:180.40px;width:300px;text-align:center;top:598px;font-size:9.4px;line-height:13px;color:#a0a6b0;letter-spacing:0.250px;">10:00</span>
<span style="left:243.40px;width:300px;text-align:center;top:598px;font-size:9.4px;line-height:13px;color:#a0a6b0;letter-spacing:0.250px;">20:00</span>
<span style="left:306.40px;width:300px;text-align:center;top:598px;font-size:9.4px;line-height:13px;color:#a0a6b0;letter-spacing:0.250px;">06-22</span>
<span style="left:369.40px;width:300px;text-align:center;top:598px;font-size:9.4px;line-height:13px;color:#a0a6b0;letter-spacing:0.250px;">16:00</span>
<span style="left:432.40px;width:300px;text-align:center;top:598px;font-size:9.4px;line-height:13px;color:#a0a6b0;letter-spacing:0.250px;">06-23</span>
<span style="left:495.40px;width:300px;text-align:center;top:598px;font-size:9.4px;line-height:13px;color:#a0a6b0;letter-spacing:0.250px;">12:00</span>
<span style="left:558.40px;width:300px;text-align:center;top:598px;font-size:9.4px;line-height:13px;color:#a0a6b0;letter-spacing:0.250px;">22:00</span>
<span style="left:244.80px;top:250px;font-size:9.4px;line-height:13px;color:#868c97;letter-spacing:0.010px;clip-path:inset(5.400px 0 0 0);">66,467</span>
<svg style="left:235px;top:256.600px" width="4.400" height="5" viewBox="0 0 4.400 5" fill="none" stroke="#868c97" stroke-width=".8"><path d="M.4 5V.9h4"/></svg>
<span style="left:353.60px;top:563px;font-size:9.4px;line-height:13px;color:#868c97;letter-spacing:0.088px;">63,366.4</span>
<svg style="left:396.4px;top:567.6px" width="4.600" height="5" viewBox="0 0 4.600 5" fill="none" stroke="#868c97" stroke-width=".8"><path d="M0 4.200h4.100V0"/></svg>
<div style="left:726.20px;top:450.20px;width:47.40px;height:29.60px;background:#f2475c;border-radius:1.500px;"></div>
<span style="left:731.60px;top:450px;font-size:9.700000000000001px;line-height:13px;color:#fad9dd;letter-spacing:0.149px;">64,469.9</span>
<span style="left:731.60px;top:464px;font-size:9.700000000000001px;line-height:13px;color:#fad9dd;letter-spacing:-0.168px;">56:10</span>
<svg style="left:59.3px;top:211.8px" width="8.400" height="5" viewBox="0 0 8.400 5" fill="none" stroke="#20242c" stroke-width="1.300" stroke-linecap="round" stroke-linejoin="round"><path d="M.8.800l3.400 3.200L7.600.8"/></svg>
<span style="left:73.80px;top:208px;font-size:10.6px;line-height:14px;color:#20242c;letter-spacing:0.311px;-webkit-text-stroke:0.28px #20242c;">2024/06/23 11:00</span>
<span style="left:167.50px;top:208px;font-size:10.6px;line-height:14px;color:#20242c;letter-spacing:-0.268px;-webkit-text-stroke:0.28px #20242c;">Open:</span>
<span style="left:198.60px;top:208px;font-size:10.6px;line-height:14px;color:#fb4b5f;letter-spacing:0.220px;-webkit-text-stroke:0.28px #fb4b5f;">64,480.0</span>
<span style="left:248.80px;top:208px;font-size:10.6px;line-height:14px;color:#20242c;letter-spacing:-0.229px;-webkit-text-stroke:0.28px #20242c;">Close:</span>
<span style="left:281.00px;top:208px;font-size:10.6px;line-height:14px;color:#fb4b5f;letter-spacing:0.278px;-webkit-text-stroke:0.28px #fb4b5f;">64,469.9</span>
<span style="left:331.70px;top:208px;font-size:10.6px;line-height:14px;color:#20242c;letter-spacing:-0.436px;-webkit-text-stroke:0.28px #20242c;">High:</span>
<span style="left:358.60px;top:208px;font-size:10.6px;line-height:14px;color:#fb4b5f;letter-spacing:0.278px;-webkit-text-stroke:0.28px #fb4b5f;">64,480.0</span>
<span style="left:409.40px;top:208px;font-size:10.6px;line-height:14px;color:#20242c;letter-spacing:-0.463px;-webkit-text-stroke:0.28px #20242c;">Low:</span>
<span style="left:433.90px;top:208px;font-size:10.6px;line-height:14px;color:#fb4b5f;letter-spacing:0.320px;-webkit-text-stroke:0.28px #fb4b5f;">64,458.8</span>
<span style="left:484.00px;top:208px;font-size:10.6px;line-height:14px;color:#20242c;letter-spacing:-0.117px;-webkit-text-stroke:0.28px #20242c;">Volume:</span>
<span style="left:524.80px;top:208px;font-size:10.6px;line-height:14px;color:#fb4b5f;letter-spacing:0.348px;-webkit-text-stroke:0.28px #fb4b5f;">67.8508</span>
<span style="left:572.40px;top:208px;font-size:10.6px;line-height:14px;color:#20242c;letter-spacing:-0.295px;-webkit-text-stroke:0.28px #20242c;">Change:</span>
<span style="left:614.70px;top:208px;font-size:10.6px;line-height:14px;color:#fb4b5f;letter-spacing:0.183px;-webkit-text-stroke:0.28px #fb4b5f;">-0.01%</span>
<span style="left:73.80px;top:221px;font-size:10.6px;line-height:14px;color:#20242c;letter-spacing:-0.496px;-webkit-text-stroke:0.28px #20242c;">Range:</span>
<span style="left:109.00px;top:221px;font-size:10.6px;line-height:14px;color:#fb4b5f;letter-spacing:-0.014px;-webkit-text-stroke:0.28px #fb4b5f;">0.03%</span>
<svg style="left:59.3px;top:241.7px" width="8.400" height="5" viewBox="0 0 8.400 5" fill="none" stroke="#20242c" stroke-width="1.300" stroke-linecap="round" stroke-linejoin="round"><path d="M.8.800l3.400 3.200L7.600.8"/></svg>
<span style="left:73.80px;top:238px;font-size:10.6px;line-height:14px;color:#20242c;letter-spacing:-0.600px;-webkit-text-stroke:0.28px #20242c;">MA</span>
<span style="left:95.60px;top:238px;font-size:10.6px;line-height:14px;color:#20242c;letter-spacing:-0.280px;-webkit-text-stroke:0.28px #20242c;">MA5:</span>
<span style="left:123.10px;top:238px;font-size:10.6px;line-height:14px;color:#f0b04a;letter-spacing:0.206px;-webkit-text-stroke:0.28px #f0b04a;">64,418.04</span>
<span style="left:179.70px;top:238px;font-size:10.6px;line-height:14px;color:#20242c;letter-spacing:-0.433px;-webkit-text-stroke:0.28px #20242c;">MA10:</span>
<span style="left:213.30px;top:238px;font-size:10.6px;line-height:14px;color:#3fb890;letter-spacing:0.256px;-webkit-text-stroke:0.28px #3fb890;">64,344.35</span>
<span style="left:269.80px;top:238px;font-size:10.6px;line-height:14px;color:#20242c;letter-spacing:-0.109px;-webkit-text-stroke:0.28px #20242c;">MA30:</span>
<span style="left:303.90px;top:238px;font-size:10.6px;line-height:14px;color:#74b9e6;letter-spacing:0.119px;-webkit-text-stroke:0.28px #74b9e6;">64,291.86</span>
<div style="left:336.00px;top:219.60px;width:304.00px;height:32.60px;background:#ffffff;box-shadow:0 1px 4px rgba(0,0,0,.12);border-radius:2px;"></div>
<div style="left:336.00px;top:219.60px;width:13.00px;height:32.60px;background:#f6f7f9;border-radius:2px 0 0 2px;"></div>
<svg style="left:338.6px;top:231.6px" width="8" height="8" viewBox="0 0 8 8" stroke="#c4c8cf" stroke-width=".9"><path d="M0 .9h8M0 4h8M0 7.100h8"/></svg>
<div style="left:349.00px;top:219.60px;width:89.20px;height:32.60px;background:#def3ec;"></div>
<div style="left:349.00px;top:218.50px;width:89.20px;height:1.30px;background:#2fb57c;"></div>
<div style="left:537.00px;top:219.60px;width:88.20px;height:32.60px;background:#fae4e7;"></div>
<div style="left:537.00px;top:218.50px;width:88.20px;height:1.30px;background:#f0455b;"></div>
<span style="left:243.60px;width:300px;text-align:center;top:222px;font-size:10.2px;line-height:13px;color:#4a5059;-webkit-text-stroke:0.1px #4a5059;letter-spacing:0.350px;">Market Buy</span>
<span style="left:243.60px;width:300px;text-align:center;top:238px;font-size:10.4px;line-height:13px;color:#1b1f27;-webkit-text-stroke:0.28px #1b1f27;letter-spacing:0.300px;">64,469.9</span>
<span style="left:446.00px;top:220px;font-size:10.2px;line-height:13px;color:#3b4049;letter-spacing:0.112px;-webkit-text-stroke:0.28px #3b4049;">Quantity(USDT)</span>
<svg style="left:525.00px;top:225.80px" width="5.4" height="3.3" viewBox="0 0 10 6"><path d="M0.5 0.3h9a.4.4 0 0 1 .3.7L5.4 5.7a.55.55 0 0 1-.8 0L.2 1A.4.4 0 0 1 .5.3z" fill="#9aa0aa"/></svg>
<span style="left:454.90px;top:237px;font-size:10.2px;line-height:13px;color:#d6d9de;letter-spacing:0.297px;">Input quantity</span>
<span style="left:431.60px;width:300px;text-align:center;top:222px;font-size:10.2px;line-height:13px;color:#4a5059;-webkit-text-stroke:0.1px #4a5059;letter-spacing:0.350px;">Market Sell</span>
<span style="left:431.60px;width:300px;text-align:center;top:238px;font-size:10.4px;line-height:13px;color:#1b1f27;-webkit-text-stroke:0.28px #1b1f27;letter-spacing:0.300px;">64,469.9</span>
<svg style="left:629.6px;top:232.2px" width="7" height="7" viewBox="0 0 7 7" stroke="#3b4049" stroke-width="1" stroke-linecap="round"><path d="M.5.500l6 6M6.500.500l-6 6"/></svg>
<div style="left:625.20px;top:219.60px;width:1.00px;height:32.60px;background:#eef0f2;"></div>
<div style="left:40.30px;top:398.00px;width:7.40px;height:24.40px;background:#f1f2f4;border-radius:3.700px;border:0.5px solid #e2e4e8;"></div>
<svg style="left:42.2px;top:407.5px" width="3.600" height="5.600" viewBox="0 0 3.600 5.600" fill="none" stroke="#9aa0ab" stroke-width=".9"><path d="M3 .4L.6 2.800 3 5.200"/></svg>
<svg style="left:56.2px;top:567.5px" width="34" height="19.5" viewBox="0 0 27 16.6" preserveAspectRatio="none" fill="#000" fill-opacity="0.06"><path d="M1.80 16.50Q-1.40 16.50 0.08 13.66L5.42 3.45Q8.90 -3.20 12.68 3.28L18.79 13.74Q20.40 16.50 17.20 16.50ZM6.50 16.50Q6.40 16.50 6.45 16.41L13.67 3.36Q17.30 -3.20 20.98 3.33L26.83 13.71Q28.40 16.50 25.20 16.50Z" fill-rule="nonzero"/></svg>
<span style="left:98.8px;top:561.8px;font-size:24.8px;line-height:31px;font-weight:700;color:rgba(0,0,0,0.058);letter-spacing:2.100px;transform:scaleX(1.25);transform-origin:0 0;">MEXC</span>
<div style="left:60.60px;top:540.00px;width:25.00px;height:25.00px;background:#ffffff;border-radius:50%;box-shadow:0 1px 5px rgba(0,0,0,.16);"></div>
<svg style="left:67px;top:546.4px" width="11.600" height="11.400" viewBox="0 0 11.600 11.400" fill="none" stroke="#5b626e" stroke-width="1" stroke-linejoin="round"><path d="M1.800 5.200V2.400c0-.4.300-.7.700-.7h7.800c.4 0 .7.300.7.700v7.700c0 .4-.3.700-.7.700H6"/><path d="M1.800 3.900H11M4.200.400v2.200M8.600.400v2.200M0 8h5.600M3.800 6l2 2-2 2"/></svg>
<div style="left:79.80px;top:542.50px;width:5.00px;height:5.00px;background:#ee3f50;border-radius:50%;"></div>
<div style="left:15.60px;top:206.40px;width:16.60px;height:17.20px;background:#e9eefb;border-radius:2px;"></div>
<svg style="left:17.10px;top:208.00px" width="14" height="14" viewBox="0 0 14 14" fill="none" stroke="#3f66e0" stroke-width="1.1" stroke-linecap="round" stroke-linejoin="round"><path d="M7 1v4M7 9v4M1 7h4M9 7h4"/></svg>
<svg style="left:16.80px;top:233.70px" width="14" height="14" viewBox="0 0 14 14" fill="none" stroke="#20242c" stroke-width="1.25" stroke-linecap="round" stroke-linejoin="round"><circle cx="3" cy="10.800" r="1.400"/><circle cx="11" cy="3.600" r="1.400"/><path d="M4.100 9.800l5.800-5.200"/></svg>
<svg style="left:16.90px;top:258.70px" width="14" height="14" viewBox="0 0 14 14" fill="none" stroke="#20242c" stroke-width="1.25" stroke-linecap="round" stroke-linejoin="round"><path d="M1.600 11.600l1.800-1.500M5.600 8.200l1.400-1.200M9.200 5.200l3-2.600"/><circle cx="4.500" cy="9.200" r="1.300"/><circle cx="8.100" cy="6.100" r="1.300"/></svg>
<svg style="left:17.00px;top:283.80px" width="14" height="14" viewBox="0 0 14 14" fill="none" stroke="#20242c" stroke-width="1.25" stroke-linecap="round" stroke-linejoin="round"><circle cx="3" cy="10.600" r="1.300"/><path d="M4.100 9.700l1.600-1.400M7.800 6.500l4.400-3.800"/><circle cx="6.700" cy="7.400" r="1.300"/></svg>
<svg style="left:17.10px;top:309.20px" width="14" height="14" viewBox="0 0 14 14" fill="none" stroke="#20242c" stroke-width="1.25" stroke-linecap="round" stroke-linejoin="round"><circle cx="2.400" cy="7" r="1.400"/><circle cx="11.600" cy="7" r="1.400"/><path d="M3.800 7h6.400"/></svg>
<svg style="left:17.10px;top:334.30px" width="14" height="14" viewBox="0 0 14 14" fill="none" stroke="#20242c" stroke-width="1.25" stroke-linecap="round" stroke-linejoin="round"><path d="M1 7h1.800M5.800 7h2.400M11.200 7H13"/><circle cx="4.300" cy="7" r="1.400"/><circle cx="9.700" cy="7" r="1.400"/></svg>
<svg style="left:17.30px;top:359.60px" width="14" height="14" viewBox="0 0 14 14" fill="none" stroke="#20242c" stroke-width="1.25" stroke-linecap="round" stroke-linejoin="round"><circle cx="2.400" cy="7" r="1.400"/><path d="M3.800 7h1.400M8.200 7H13"/><circle cx="6.700" cy="7" r="1.400"/></svg>
<svg style="left:17.60px;top:384.60px" width="14" height="14" viewBox="0 0 14 14" fill="none" stroke="#20242c" stroke-width="1.25" stroke-linecap="round" stroke-linejoin="round"><path d="M7 .8v1.800M7 11.400v1.800"/><path d="M7 2.600l1.600 2.200L7 7 5.400 4.800zM7 7l1.600 2.200L7 11.400 5.400 9.200z"/></svg>
<svg style="left:17.30px;top:409.80px" width="14" height="14" viewBox="0 0 14 14" fill="none" stroke="#20242c" stroke-width="1.25" stroke-linecap="round" stroke-linejoin="round"><circle cx="2.600" cy="8.600" r="1.400"/><path d="M4 8.600h9M1.200 10.400h11.800" /><path d="M5.600 5.200h4.800" stroke-dasharray="1 .8"/></svg>
<svg style="left:17.30px;top:434.90px" width="14" height="14" viewBox="0 0 14 14" fill="none" stroke="#20242c" stroke-width="1.25" stroke-linecap="round" stroke-linejoin="round"><path d="M1.600 8.600l6-6.400M4.800 11.800l7.600-8M2.600 12.600l2-2.200"/><path d="M3 5.400l3.400 3M6.400 2l3.800 3.600"/><circle cx="10.200" cy="8.800" r="1.200"/></svg>
<svg style="left:17.30px;top:460.10px" width="14" height="14" viewBox="0 0 14 14" fill="none" stroke="#20242c" stroke-width="1.25" stroke-linecap="round" stroke-linejoin="round"><circle cx="3" cy="8.200" r="1.400"/><circle cx="7" cy="4.400" r="1.400"/><circle cx="7" cy="10.400" r="1.400"/><circle cx="11" cy="6.200" r="1.400"/><path d="M4 7.200l2-1.800M8 9.400l2-2.200M1 11l1-1M12 5l1.200-1.200"/></svg>
<svg style="left:17.30px;top:485.00px" width="14" height="14" viewBox="0 0 14 14" fill="none" stroke="#20242c" stroke-width="1.2" stroke-linecap="round" stroke-linejoin="round"><path d="M1.600 2.400h11M4.400 5.600h8.200M4.400 8.800h8.200M1.600 12h11"/><path d="M2.600 11.400V4.800M1.200 6.200l1.400-1.600L4 6.200" /></svg>
<svg style="left:17.30px;top:514.20px" width="14" height="14" viewBox="0 0 14 14" fill="none" stroke="#20242c" stroke-width="1.25" stroke-linecap="round" stroke-linejoin="round"><path d="M1.400 12.400V7a5.600 5.600 0 0 1 11.200 0v5.400H9.400V7a2.400 2.400 0 0 0-4.800 0v5.400z"/><path d="M1.400 10h3.200M9.400 10h3.200"/></svg>
<svg style="left:17.30px;top:539.50px" width="14" height="14" viewBox="0 0 14 14" fill="none" stroke="#20242c" stroke-width="1.15" stroke-linecap="round" stroke-linejoin="round"><path d="M.8 7.200C2.200 4.800 4.400 3.400 7 3.400s4.800 1.400 6.200 3.800C11.800 9.600 9.600 11 7 11S2.200 9.600.8 7.200z"/><circle cx="7" cy="7.200" r="1.900"/><path d="M2.600 12.400l8.800-10.800"/></svg>
<svg style="left:17.30px;top:563.80px" width="14" height="14" viewBox="0 0 14 14" fill="none" stroke="#20242c" stroke-width="1.25" stroke-linecap="round" stroke-linejoin="round"><path d="M1.600 3.600h10.800M4.600 1.200h4.800M2.800 3.600v8.200c0 .5.400.8.800.8h6.800c.4 0 .8-.3.800-.8V3.600M7 6v4.200"/></svg>
<span style="left:790.20px;top:144px;font-size:11.7px;line-height:15px;color:#14171c;letter-spacing:0.220px;-webkit-text-stroke:0.28px #14171c;">Order Book</span>
<svg style="left:792.4px;top:179.7px" width="12" height="11" viewBox="0 0 12 11"><path d="M0 0.8H11.4" stroke="#fb4b5f" stroke-width="1.350"/><path d="M1.2 3.5H8.4" stroke="#fb4b5f" stroke-width="1.350"/><path d="M1.2 6.2H8.4" stroke="#3dc688" stroke-width="1.350"/><path d="M0.6 8.9H11.4" stroke="#3dc688" stroke-width="1.350"/></svg>
<svg style="left:816.4px;top:179.7px" width="12" height="11" viewBox="0 0 12 11"><path d="M0 0.8H8.2" stroke="#3dc688" stroke-width="1.350"/><path d="M0 3.5H8.2" stroke="#3dc688" stroke-width="1.350"/><path d="M0 6.2H8.2" stroke="#3dc688" stroke-width="1.350"/><path d="M0 8.9H10.6" stroke="#3dc688" stroke-width="1.350"/></svg>
<svg style="left:840.1px;top:179.7px" width="12" height="11" viewBox="0 0 12 11"><path d="M0 0.8H10.6" stroke="#fb4b5f" stroke-width="1.350"/><path d="M0 3.5H7.8" stroke="#fb4b5f" stroke-width="1.350"/><path d="M0 6.2H7.8" stroke="#fb4b5f" stroke-width="1.350"/><path d="M0 8.9H7.8" stroke="#fb4b5f" stroke-width="1.350"/></svg>
<span style="left:790.30px;top:203px;font-size:10.1px;line-height:13px;color:#858c99;letter-spacing:0.057px;-webkit-text-stroke:0.28px #858c99;">Price(USDT)</span>
<span style="left:852.70px;top:203px;font-size:10.1px;line-height:13px;color:#858c99;letter-spacing:0.101px;-webkit-text-stroke:0.28px #858c99;">Quantity(US... )</span>
<span style="left:942.80px;top:203px;font-size:10.1px;line-height:13px;color:#858c99;-webkit-text-stroke:0.28px #858c99;">Total(USDT)</span>
<div style="left:789.20px;top:221.50px;width:490.80px;height:17.20px;background:rgba(238,74,93,0.12);"></div>
<span style="left:790.30px;top:223px;font-size:10.1px;line-height:13px;color:#fb4b5f;letter-spacing:0.641px;-webkit-text-stroke:0.28px #fb4b5f;">64,470.4</span>
<span style="left:876.80px;top:223px;font-size:10.1px;line-height:13px;color:#1b1f27;letter-spacing:0.565px;-webkit-text-stroke:0.28px #1b1f27;">454.478K</span>
<span style="right:281.40px;top:223px;font-size:10.1px;line-height:13px;color:#1b1f27;-webkit-text-stroke:0.28px #1b1f27;letter-spacing:0.350px;">2.616M</span>
<div style="left:824.70px;top:239.10px;width:455.30px;height:17.20px;background:rgba(238,74,93,0.12);"></div>
<span style="left:790.30px;top:241px;font-size:10.1px;line-height:13px;color:#fb4b5f;letter-spacing:0.641px;-webkit-text-stroke:0.28px #fb4b5f;">64,470.3</span>
<span style="left:876.80px;top:241px;font-size:10.1px;line-height:13px;color:#1b1f27;letter-spacing:0.565px;-webkit-text-stroke:0.28px #1b1f27;">548.243K</span>
<span style="right:281.40px;top:241px;font-size:10.1px;line-height:13px;color:#1b1f27;-webkit-text-stroke:0.28px #1b1f27;letter-spacing:0.350px;">2.162M</span>
<div style="left:873.20px;top:256.60px;width:406.80px;height:17.20px;background:rgba(238,74,93,0.12);"></div>
<span style="left:790.30px;top:259px;font-size:10.1px;line-height:13px;color:#fb4b5f;letter-spacing:0.641px;-webkit-text-stroke:0.28px #fb4b5f;">64,470.2</span>
<span style="left:876.80px;top:259px;font-size:10.1px;line-height:13px;color:#1b1f27;letter-spacing:0.565px;-webkit-text-stroke:0.28px #1b1f27;">562.432K</span>
<span style="right:281.40px;top:259px;font-size:10.1px;line-height:13px;color:#1b1f27;-webkit-text-stroke:0.28px #1b1f27;letter-spacing:0.350px;">1.613M</span>
<div style="left:923.40px;top:274.20px;width:356.60px;height:17.20px;background:rgba(238,74,93,0.12);"></div>
<span style="left:790.30px;top:276px;font-size:10.1px;line-height:13px;color:#fb4b5f;letter-spacing:0.641px;-webkit-text-stroke:0.28px #fb4b5f;">64,470.1</span>
<span style="left:876.80px;top:276px;font-size:10.1px;line-height:13px;color:#1b1f27;letter-spacing:0.565px;-webkit-text-stroke:0.28px #1b1f27;">591.326K</span>
<span style="right:281.40px;top:276px;font-size:10.1px;line-height:13px;color:#1b1f27;-webkit-text-stroke:0.28px #1b1f27;letter-spacing:0.350px;">1.051M</span>
<span style="left:790.30px;top:294px;font-size:10.1px;line-height:13px;color:#fb4b5f;letter-spacing:0.641px;-webkit-text-stroke:0.28px #fb4b5f;">64,470.0</span>
<span style="left:876.80px;top:294px;font-size:10.1px;line-height:13px;color:#1b1f27;letter-spacing:0.565px;-webkit-text-stroke:0.28px #1b1f27;">460.064K</span>
<span style="right:281.40px;top:294px;font-size:10.1px;line-height:13px;color:#1b1f27;-webkit-text-stroke:0.28px #1b1f27;letter-spacing:0.350px;">460.064K</span>
<span style="left:790.30px;top:312px;font-size:15.4px;line-height:19px;color:#14171c;letter-spacing:0.909px;-webkit-text-stroke:0.45px #14171c;">64,469.9</span>
<span style="left:873.90px;top:316px;font-size:9.9px;line-height:13px;color:#858c99;letter-spacing:0.752px;-webkit-text-stroke:0.28px #858c99;">64,470.0</span>
<span style="left:790.30px;top:338px;font-size:10.1px;line-height:13px;color:#3dc688;letter-spacing:0.641px;-webkit-text-stroke:0.28px #3dc688;">64,469.9</span>
<span style="left:876.80px;top:338px;font-size:10.1px;line-height:13px;color:#1b1f27;letter-spacing:0.565px;-webkit-text-stroke:0.28px #1b1f27;">512.516K</span>
<span style="right:281.40px;top:338px;font-size:10.1px;line-height:13px;color:#1b1f27;-webkit-text-stroke:0.28px #1b1f27;letter-spacing:0.350px;">512.516K</span>
<div style="left:927.60px;top:353.20px;width:352.40px;height:17.20px;background:rgba(28,179,138,0.15);"></div>
<span style="left:790.30px;top:355px;font-size:10.1px;line-height:13px;color:#3dc688;letter-spacing:0.641px;-webkit-text-stroke:0.28px #3dc688;">64,469.8</span>
<span style="left:876.80px;top:355px;font-size:10.1px;line-height:13px;color:#1b1f27;letter-spacing:0.565px;-webkit-text-stroke:0.28px #1b1f27;">533.971K</span>
<span style="right:281.40px;top:355px;font-size:10.1px;line-height:13px;color:#1b1f27;-webkit-text-stroke:0.28px #1b1f27;letter-spacing:0.350px;">1.046M</span>
<div style="left:878.00px;top:370.80px;width:402.00px;height:17.20px;background:rgba(28,179,138,0.15);"></div>
<span style="left:790.30px;top:373px;font-size:10.1px;line-height:13px;color:#3dc688;letter-spacing:0.641px;-webkit-text-stroke:0.28px #3dc688;">64,469.7</span>
<span style="left:876.80px;top:373px;font-size:10.1px;line-height:13px;color:#1b1f27;letter-spacing:0.565px;-webkit-text-stroke:0.28px #1b1f27;">478.978K</span>
<span style="right:281.40px;top:373px;font-size:10.1px;line-height:13px;color:#1b1f27;-webkit-text-stroke:0.28px #1b1f27;letter-spacing:0.350px;">1.525M</span>
<div style="left:838.70px;top:388.40px;width:441.30px;height:17.20px;background:rgba(28,179,138,0.15);"></div>
<span style="left:790.30px;top:390px;font-size:10.1px;line-height:13px;color:#3dc688;letter-spacing:0.641px;-webkit-text-stroke:0.28px #3dc688;">64,469.6</span>
<span style="left:876.80px;top:390px;font-size:10.1px;line-height:13px;color:#1b1f27;letter-spacing:0.565px;-webkit-text-stroke:0.28px #1b1f27;">477.874K</span>
<span style="right:281.40px;top:390px;font-size:10.1px;line-height:13px;color:#1b1f27;-webkit-text-stroke:0.28px #1b1f27;letter-spacing:0.350px;">2.003M</span>
<div style="left:801.00px;top:406.00px;width:479.00px;height:17.20px;background:rgba(28,179,138,0.15);"></div>
<span style="left:790.30px;top:408px;font-size:10.1px;line-height:13px;color:#3dc688;letter-spacing:0.641px;-webkit-text-stroke:0.28px #3dc688;">64,469.5</span>
<span style="left:876.80px;top:408px;font-size:10.1px;line-height:13px;color:#1b1f27;letter-spacing:0.565px;-webkit-text-stroke:0.28px #1b1f27;">500.999K</span>
<span style="right:281.40px;top:408px;font-size:10.1px;line-height:13px;color:#1b1f27;-webkit-text-stroke:0.28px #1b1f27;letter-spacing:0.350px;">2.504M</span>
<svg style="left:790px;top:431.4px" width="490" height="16" viewBox="0 0 490 16"><path d="M0 0h101l3.600 16H0z" fill="#d5efe7"/><path d="M105 0h385v16H108.600z" fill="#fbdde1"/><rect x=".4" y=".4" width="15.600" height="15.200" fill="#fafbfc" stroke="#dfe2e6" stroke-width=".8"/></svg>
<span style="left:648.20px;width:300px;text-align:center;top:432px;font-size:10.4px;line-height:13px;color:#1b1f27;-webkit-text-stroke:0.28px #1b1f27;">B</span>
<span style="left:826.80px;top:432px;font-size:10.2px;line-height:13px;color:#1b1f27;letter-spacing:0.445px;-webkit-text-stroke:0.28px #1b1f27;">49.8%</span>
<span style="left:931.70px;top:432px;font-size:10.2px;line-height:13px;color:#1b1f27;letter-spacing:0.470px;-webkit-text-stroke:0.28px #1b1f27;">50.2%</span>
<div style="left:777.00px;top:458.00px;width:510.00px;height:2.00px;background:#f8f9fa;"></div>
<span style="left:790.40px;top:470px;font-size:11.7px;line-height:15px;color:#14171c;letter-spacing:0.219px;-webkit-text-stroke:0.28px #14171c;">Market Trades</span>
<span style="left:790.40px;top:498px;font-size:10.1px;line-height:13px;color:#858c99;letter-spacing:0.077px;-webkit-text-stroke:0.28px #858c99;">Price(USDT)</span>
<span style="left:860.70px;top:498px;font-size:10.1px;line-height:13px;color:#858c99;letter-spacing:0.213px;-webkit-text-stroke:0.28px #858c99;">Quantity(USDT)</span>
<span style="left:790.40px;top:516px;font-size:10.1px;line-height:13px;color:#3dc688;letter-spacing:0.641px;-webkit-text-stroke:0.28px #3dc688;">64,469.9</span>
<span style="right:344.60px;top:516px;font-size:10.1px;line-height:13px;color:#1b1f27;-webkit-text-stroke:0.28px #1b1f27;letter-spacing:0.300px;">19.34</span>
<span style="left:956.60px;top:516px;font-size:10.1px;line-height:13px;color:#1b1f27;-webkit-text-stroke:0.28px #1b1f27;letter-spacing:1.400px;">11:03:47</span>
<span style="left:790.40px;top:534px;font-size:10.1px;line-height:13px;color:#fb4b5f;letter-spacing:0.641px;-webkit-text-stroke:0.28px #fb4b5f;">64,469.9</span>
<span style="right:344.60px;top:534px;font-size:10.1px;line-height:13px;color:#1b1f27;-webkit-text-stroke:0.28px #1b1f27;letter-spacing:0.300px;">19.34</span>
<span style="left:956.60px;top:534px;font-size:10.1px;line-height:13px;color:#1b1f27;-webkit-text-stroke:0.28px #1b1f27;letter-spacing:1.400px;">11:03:47</span>
<span style="left:790.40px;top:551px;font-size:10.1px;line-height:13px;color:#3dc688;letter-spacing:0.641px;-webkit-text-stroke:0.28px #3dc688;">64,469.9</span>
<span style="right:344.60px;top:551px;font-size:10.1px;line-height:13px;color:#1b1f27;-webkit-text-stroke:0.28px #1b1f27;letter-spacing:0.300px;">25.79</span>
<span style="left:956.60px;top:551px;font-size:10.1px;line-height:13px;color:#1b1f27;-webkit-text-stroke:0.28px #1b1f27;letter-spacing:1.400px;">11:03:47</span>
<span style="left:790.40px;top:569px;font-size:10.1px;line-height:13px;color:#3dc688;letter-spacing:0.641px;-webkit-text-stroke:0.28px #3dc688;">64,470.0</span>
<span style="right:344.60px;top:569px;font-size:10.1px;line-height:13px;color:#1b1f27;-webkit-text-stroke:0.28px #1b1f27;letter-spacing:0.300px;">25.79</span>
<span style="left:956.60px;top:569px;font-size:10.1px;line-height:13px;color:#1b1f27;-webkit-text-stroke:0.28px #1b1f27;letter-spacing:1.400px;">11:03:47</span>
<span style="left:790.40px;top:586px;font-size:10.1px;line-height:13px;color:#3dc688;letter-spacing:0.641px;-webkit-text-stroke:0.28px #3dc688;">64,470.0</span>
<span style="right:344.60px;top:586px;font-size:10.1px;line-height:13px;color:#1b1f27;-webkit-text-stroke:0.28px #1b1f27;letter-spacing:0.300px;">38.68</span>
<span style="left:956.60px;top:586px;font-size:10.1px;line-height:13px;color:#1b1f27;-webkit-text-stroke:0.28px #1b1f27;letter-spacing:1.400px;">11:03:47</span>
<span style="left:790.40px;top:604px;font-size:10.1px;line-height:13px;color:#fb4b5f;letter-spacing:0.641px;-webkit-text-stroke:0.28px #fb4b5f;">64,469.9</span>
<span style="right:344.60px;top:604px;font-size:10.1px;line-height:13px;color:#1b1f27;-webkit-text-stroke:0.28px #1b1f27;letter-spacing:0.300px;">6.45</span>
<span style="left:956.60px;top:604px;font-size:10.1px;line-height:13px;color:#1b1f27;-webkit-text-stroke:0.28px #1b1f27;letter-spacing:1.400px;">11:03:47</span>
<div style="left:3.00px;top:619.50px;width:1277.00px;height:30.00px;background:#ffffff;"></div>
<span style="left:16.90px;top:626px;font-size:11.7px;line-height:15px;color:#14171c;letter-spacing:0.234px;-webkit-text-stroke:0.28px #14171c;">Open Position(0)</span>
<span style="left:122.00px;top:626px;font-size:11.7px;line-height:15px;color:#7f8794;letter-spacing:0.237px;-webkit-text-stroke:0.28px #7f8794;">Open Order (0)</span>
<span style="left:218.20px;top:626px;font-size:11.7px;line-height:15px;color:#7f8794;letter-spacing:0.262px;-webkit-text-stroke:0.28px #7f8794;">Position History</span>
<span style="left:317.00px;top:626px;font-size:11.7px;line-height:15px;color:#7f8794;letter-spacing:0.251px;-webkit-text-stroke:0.28px #7f8794;">Order &amp; Trade History</span>
<span style="left:449.30px;top:626px;font-size:11.7px;line-height:15px;color:#7f8794;letter-spacing:0.121px;-webkit-text-stroke:0.28px #7f8794;">Capital Flow</span>
<span style="left:529.00px;top:626px;font-size:11.7px;line-height:15px;color:#7f8794;letter-spacing:0.185px;-webkit-text-stroke:0.28px #7f8794;">Wallet</span>
<div style="left:852.00px;top:629.60px;width:10.60px;height:10.60px;background:#ffffff;border:0.8px solid #e0e3e8;border-radius:1.500px;box-sizing:border-box;"></div>
<span style="left:870.00px;top:628px;font-size:10.8px;line-height:14px;color:#1b1f27;letter-spacing:-0.162px;-webkit-text-stroke:0.28px #1b1f27;">Hide Other Pairs</span>
<svg style="left:961px;top:629px" width="9" height="11" viewBox="0 0 9 11" fill="none" stroke="#8a909b" stroke-width="1"><path d="M1 3.200l2.600-2.400v9.400M8 7.800l-2.600 2.400V.8"/></svg>
<div style="left:0.00px;top:650.50px;width:1280.00px;height:19.50px;background:#ffffff;"></div>
<div style="left:0.00px;top:650.00px;width:1280.00px;height:1.00px;background:#eff0f2;"></div>
<svg style="left:14.6px;top:656.2px" width="10" height="9" viewBox="0 0 10 9" fill="#3461d9"><rect x="0" y="6.400" width="1.700" height="2.600" rx=".4"/><rect x="2.700" y="4.400" width="1.700" height="4.600" rx=".4"/><rect x="5.400" y="2.200" width="1.700" height="6.800" rx=".4"/><rect x="8.100" y="0" width="1.700" height="9" rx=".4"/></svg>
<span style="left:29.90px;top:655px;font-size:10px;line-height:13px;color:#3461d9;letter-spacing:0.017px;-webkit-text-stroke:0.28px #3461d9;">Network Normal</span>
<span style="left:104.80px;top:655px;font-size:10px;line-height:13px;color:#5b626e;letter-spacing:-0.009px;-webkit-text-stroke:0.28px #5b626e;">Line 1</span>
<svg style="left:135.60px;top:659.80px" width="5.4" height="3.3" viewBox="0 0 10 6"><path d="M0.5 0.3h9a.4.4 0 0 1 .3.7L5.4 5.7a.55.55 0 0 1-.8 0L.2 1A.4.4 0 0 1 .5.3z" fill="#5b626e"/></svg>
<div style="left:148.60px;top:656.40px;width:1.00px;height:10.00px;background:#dcdfe4;"></div>
<svg style="left:156px;top:657.2px" width="9.600" height="8.400" viewBox="0 0 9.600 8.400" stroke="#6d7481" stroke-width="1"><path d="M0 .8h9.600M0 4.200h9.600M0 7.600h9.600"/></svg>
</div>
<div id="mask"></div>
<div id="edge1" style="left:0;top:0;width:968px;height:1.200px;background:rgba(0,0,0,.3)"></div>
<div id="edge2" style="left:0;top:0;width:1.500px;height:670px;background:rgba(0,0,0,.1)"></div>
<svg style="left:0;top:664px" width="6" height="6" viewBox="0 0 6 6"><path d="M0 0C0 3.500 2.500 6 6 6H0z" fill="#15161a"/></svg>
<div id="drawer" style="left:0;top:0;width:1280px;height:670px">
<div style="left:968.00px;top:0.00px;width:312.00px;height:670.00px;background:#ffffff;box-shadow:-4px 0 12px -4px rgba(0,0,0,.10);"></div>
<span style="left:988.60px;top:14px;font-size:14.3px;line-height:18px;color:#11141a;letter-spacing:-0.548px;font-weight:700;">Preferences</span>
<svg style="left:1250.2px;top:17.900px" width="11" height="10.600" viewBox="0 0 11 10.600" stroke="#737a86" stroke-width="1.100" stroke-linecap="round"><path d="M.6.600l9.800 9.400M10.400.600L.6 10"/></svg>
<div style="left:989.00px;top:59.80px;width:273.20px;height:32.20px;background:#f5f6f8;border-radius:4px;"></div>
<div style="left:1124.20px;top:62.50px;width:135.60px;height:27.00px;background:#ffffff;border-radius:3px;box-shadow:0 0 2px rgba(0,0,0,.04);"></div>
<span style="left:1037.00px;top:68px;font-size:11.9px;line-height:16px;color:#7b8392;letter-spacing:0.078px;-webkit-text-stroke:0.36px #7b8392;">General</span>
<span style="left:1134.00px;top:68px;font-size:11.9px;line-height:16px;color:#15181e;letter-spacing:0.385px;-webkit-text-stroke:0.42px #15181e;">Notifications &amp; Alerts</span>
<span style="left:988.70px;top:113px;font-size:12px;line-height:16px;color:#7b8392;letter-spacing:0.308px;-webkit-text-stroke:0.36px #7b8392;">Notification Setting</span>
<svg style="left:1099.8px;top:116.6px" width="10.400" height="10.400" viewBox="0 0 10.400 10.400" fill="none" stroke="#7b8392" stroke-width=".9"><circle cx="5.200" cy="5.200" r="4.600"/><path d="M5.200 4.600v3" stroke-linecap="round"/><circle cx="5.200" cy="2.900" r=".55" fill="#7b8392" stroke="none"/></svg>
<span style="left:988.70px;top:145px;font-size:11.8px;line-height:16px;color:#15181e;letter-spacing:0.246px;-webkit-text-stroke:0.3px #15181e;">Liquidation Alert</span><div style="left:988.40px;top:161.30px;width:89.20px;height:1.00px;border-top:1px dotted #aeb3bd;"></div><div style="left:1237.60px;top:146.00px;width:24.70px;height:13.40px;background:#3567e6;border-radius:6.7px;"></div><div style="left:1250.20px;top:147.30px;width:10.80px;height:10.80px;background:#ffffff;border-radius:50%;"></div>
<div style="left:988.40px;top:169.00px;width:273.80px;height:38.60px;background:#f7f8fa;border-radius:2px;"></div>
<span style="left:1001.80px;top:182px;font-size:10.6px;line-height:14px;color:#1b1f27;letter-spacing:-0.028px;-webkit-text-stroke:0.28px #1b1f27;">Margin Ratio&gt;=</span>
<span style="left:1203.80px;top:182px;font-size:10.8px;line-height:14px;color:#4673e8;letter-spacing:-0.008px;-webkit-text-stroke:0.28px #4673e8;">40%</span>
<svg style="left:1235.300px;top:182px" width="13" height="13" viewBox="0 0 13 13" fill="none" stroke="#666d79" stroke-width="1.100" stroke-linejoin="round" stroke-linecap="round"><path d="M1.900 9.900V7.600L8.200 1.100c.4-.4 1-.4 1.400 0l1.200 1.200c.4.400.4 1 0 1.400L4.400 9.900z"/><path d="M.5 12.300h12"/></svg>
<span style="left:988.70px;top:224px;font-size:11.8px;line-height:16px;color:#15181e;letter-spacing:0.070px;-webkit-text-stroke:0.3px #15181e;">Funding Fee Trigger</span><div style="left:988.40px;top:241.10px;width:108.80px;height:1.00px;border-top:1px dotted #aeb3bd;"></div><div style="left:1237.60px;top:225.80px;width:24.70px;height:13.40px;background:#e9ebef;border-radius:6.7px;"></div><div style="left:1238.90px;top:227.10px;width:10.80px;height:10.80px;background:#ffffff;border-radius:50%;box-shadow:0 0 1.500px rgba(0,0,0,.12);"></div>
<span style="left:988.70px;top:258px;font-size:11.8px;line-height:16px;color:#15181e;letter-spacing:0.186px;-webkit-text-stroke:0.3px #15181e;">Trigger Order Trigger</span><div style="left:988.40px;top:274.50px;width:115.40px;height:1.00px;border-top:1px dotted #aeb3bd;"></div><div style="left:1237.60px;top:259.20px;width:24.70px;height:13.40px;background:#3567e6;border-radius:6.7px;"></div><div style="left:1250.20px;top:260.50px;width:10.80px;height:10.80px;background:#ffffff;border-radius:50%;"></div>
<span style="left:988.70px;top:291px;font-size:11.8px;line-height:16px;color:#15181e;-webkit-text-stroke:0.3px #15181e;">TP/SL Trigger</span><div style="left:988.40px;top:308.00px;width:73.60px;height:1.00px;border-top:1px dotted #aeb3bd;"></div><div style="left:1237.60px;top:292.70px;width:24.70px;height:13.40px;background:#3567e6;border-radius:6.7px;"></div><div style="left:1250.20px;top:294.00px;width:10.80px;height:10.80px;background:#ffffff;border-radius:50%;"></div>
<span style="left:988.70px;top:325px;font-size:11.8px;line-height:16px;color:#15181e;letter-spacing:0.141px;-webkit-text-stroke:0.3px #15181e;">Trailing Stop Order Trigger</span><div style="left:988.40px;top:341.70px;width:144.20px;height:1.00px;border-top:1px dotted #aeb3bd;"></div><div style="left:1237.60px;top:326.40px;width:24.70px;height:13.40px;background:#3567e6;border-radius:6.7px;"></div><div style="left:1250.20px;top:327.70px;width:10.80px;height:10.80px;background:#ffffff;border-radius:50%;"></div>
<div style="left:988.40px;top:362.00px;width:273.80px;height:1.00px;background:#eef0f3;"></div>
<span style="left:988.70px;top:385px;font-size:12px;line-height:16px;color:#7b8392;letter-spacing:0.260px;-webkit-text-stroke:0.36px #7b8392;">Trading Alert</span>
<svg style="left:1064px;top:388.2px" width="10.400" height="10.400" viewBox="0 0 10.400 10.400" fill="none" stroke="#7b8392" stroke-width=".9"><circle cx="5.200" cy="5.200" r="4.600"/><path d="M5.200 4.600v3" stroke-linecap="round"/><circle cx="5.200" cy="2.900" r=".55" fill="#7b8392" stroke="none"/></svg>
<span style="left:988.70px;top:416px;font-size:11.8px;line-height:16px;color:#15181e;letter-spacing:-0.080px;-webkit-text-stroke:0.3px #15181e;">Sound</span><div style="left:988.40px;top:432.30px;width:35.10px;height:1.00px;border-top:1px dotted #aeb3bd;"></div><div style="left:1237.60px;top:417.00px;width:24.70px;height:13.40px;background:#e9ebef;border-radius:6.7px;"></div><div style="left:1238.90px;top:418.30px;width:10.80px;height:10.80px;background:#ffffff;border-radius:50%;box-shadow:0 0 1.500px rgba(0,0,0,.12);"></div>
<span style="left:988.70px;top:449px;font-size:11.8px;line-height:16px;color:#15181e;letter-spacing:0.246px;-webkit-text-stroke:0.3px #15181e;">Liquidation Alert</span><div style="left:988.40px;top:466.10px;width:89.20px;height:1.00px;border-top:1px dotted #aeb3bd;"></div><div style="left:1237.60px;top:450.80px;width:24.70px;height:13.40px;background:#e9ebef;border-radius:6.7px;"></div><div style="left:1238.90px;top:452.10px;width:10.80px;height:10.80px;background:#ffffff;border-radius:50%;box-shadow:0 0 1.500px rgba(0,0,0,.12);"></div>
<span style="left:988.70px;top:483px;font-size:11.8px;line-height:16px;color:#15181e;letter-spacing:0.229px;-webkit-text-stroke:0.3px #15181e;">Liquidation Notice</span><div style="left:988.40px;top:499.90px;width:99.00px;height:1.00px;border-top:1px dotted #aeb3bd;"></div><div style="left:1237.60px;top:484.60px;width:24.70px;height:13.40px;background:#3567e6;border-radius:6.7px;"></div><div style="left:1250.20px;top:485.90px;width:10.80px;height:10.80px;background:#ffffff;border-radius:50%;"></div>
<span style="left:988.70px;top:517px;font-size:11.8px;line-height:16px;color:#15181e;letter-spacing:0.122px;-webkit-text-stroke:0.3px #15181e;">Order Cancelation</span><div style="left:988.40px;top:533.40px;width:99.00px;height:1.00px;border-top:1px dotted #aeb3bd;"></div><div style="left:1237.60px;top:518.10px;width:24.70px;height:13.40px;background:#3567e6;border-radius:6.7px;"></div><div style="left:1250.20px;top:519.40px;width:10.80px;height:10.80px;background:#ffffff;border-radius:50%;"></div>
<span style="left:988.70px;top:550px;font-size:11.8px;line-height:16px;color:#15181e;letter-spacing:0.104px;-webkit-text-stroke:0.3px #15181e;">Order Filling</span><div style="left:988.40px;top:566.90px;width:66.80px;height:1.00px;border-top:1px dotted #aeb3bd;"></div><div style="left:1237.60px;top:551.60px;width:24.70px;height:13.40px;background:#3567e6;border-radius:6.7px;"></div><div style="left:1250.20px;top:552.90px;width:10.80px;height:10.80px;background:#ffffff;border-radius:50%;"></div>
<span style="left:988.70px;top:584px;font-size:11.8px;line-height:16px;color:#15181e;letter-spacing:-0.049px;-webkit-text-stroke:0.3px #15181e;">TP/SL Order</span><div style="left:988.40px;top:600.40px;width:66.60px;height:1.00px;border-top:1px dotted #aeb3bd;"></div><div style="left:1237.60px;top:585.10px;width:24.70px;height:13.40px;background:#3567e6;border-radius:6.7px;"></div><div style="left:1250.20px;top:586.40px;width:10.80px;height:10.80px;background:#ffffff;border-radius:50%;"></div>
<span style="left:988.70px;top:617px;font-size:11.8px;line-height:16px;color:#15181e;letter-spacing:0.103px;-webkit-text-stroke:0.3px #15181e;">Trailing Stop Order</span><div style="left:988.40px;top:633.90px;width:102.40px;height:1.00px;border-top:1px dotted #aeb3bd;"></div><div style="left:1237.60px;top:618.60px;width:24.70px;height:13.40px;background:#3567e6;border-radius:6.7px;"></div><div style="left:1250.20px;top:619.90px;width:10.80px;height:10.80px;background:#ffffff;border-radius:50%;"></div>
<div style="left:968px;top:640px;width:312px;height:30px;background:linear-gradient(#ffffff,#f7f8f9);"></div>
<svg style="left:1121px;top:656.400px" width="8" height="5" viewBox="0 0 8 5" fill="none" stroke="#6d7481" stroke-width="1" stroke-linecap="round" stroke-linejoin="round"><path d="M.7.700L4 4 7.300.700"/></svg>
</div>
<div style="left:979.8px;top:7.8px;width:93.79999999999995px;height:29.999999999999996px;border:4.6px solid #ec4442;border-radius:7px;box-sizing:border-box;"></div>
<div style="left:979.8px;top:132.8px;width:292.79999999999995px;height:78.6px;border:4.6px solid #ec4442;border-radius:7px;box-sizing:border-box;"></div>
<div style="left:972.6px;top:436px;width:303.19999999999993px;height:38px;border:4.6px solid #ec4442;border-radius:7px;box-sizing:border-box;"></div>
<div style="left:968px;top:0;width:312px;height:1px;background:rgba(0,0,0,.16)"></div>
</div></body></html>
